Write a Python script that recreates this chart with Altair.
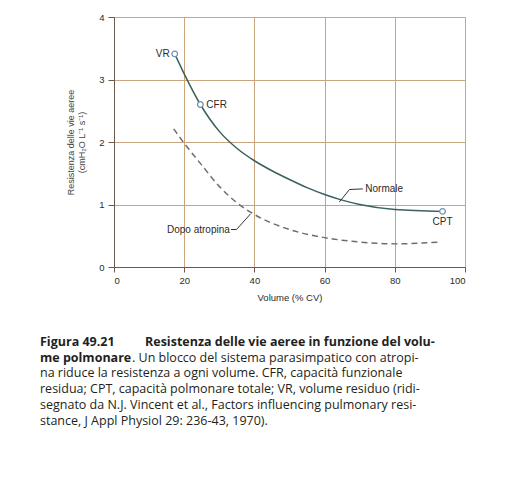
import altair as alt
import pandas as pd

# --- data ---
vol_normal = [17.3, 20, 24.6, 30, 35, 40, 45, 50, 55, 60, 65, 70, 80, 93.6]
res_normal = [3.41, 3.09, 2.60, 2.17, 1.90, 1.70, 1.54, 1.40, 1.27, 1.16, 1.07, 1.00, 0.92, 0.89]

vol_atropine = [17, 20, 25, 30, 35, 40, 50, 60, 70, 80, 93]
res_atropine = [2.21, 1.98, 1.63, 1.29, 1.03, 0.84, 0.60, 0.47, 0.40, 0.37, 0.40]

point_labels = ["VR", "CFR", "CPT"]
point_vol = [17.3, 24.6, 93.6]
point_res = [3.41, 2.60, 0.89]

caption_lines = [
    "na riduce la resistenza a ogni volume. CFR, capacità funzionale",
    "residua; CPT, capacità polmonare totale; VR, volume residuo (ridi-",
    "segnato da N.J. Vincent et al., Factors influencing pulmonary resi-",
    "stance, J Appl Physiol 29: 236-43, 1970).",
]

W, H = 351, 250
LEFT, TOP = 114, 17
FONT = "Liberation Sans"
CAP_FONT = "Open Sans"
TXT = "#2a2a2a"

normal_df = pd.DataFrame({"v": vol_normal, "r": res_normal})
atro_df = pd.DataFrame({"v": vol_atropine, "r": res_atropine})
pts_df = pd.DataFrame({"v": point_vol, "r": point_res, "lab": point_labels})

xs = alt.Scale(domain=[0, 100], nice=False)
ys = alt.Scale(domain=[0, 4], nice=False)

xax = alt.Axis(values=[0, 20, 40, 60, 80, 100], title="Volume (% CV)", format="d",
               grid=True, gridColor="#c9a47c", gridWidth=1,
               domainColor="#6b5a4c", tickColor="#6b5a4c", tickSize=5,
               labelFont=FONT, labelFontSize=9.5, labelColor=TXT, labelPadding=3,
               titleFont=FONT, titleFontSize=9.5, titleFontWeight="normal",
               titleColor=TXT, titlePadding=8)
yax = alt.Axis(values=[0, 1, 2, 3, 4], format="d",
               title=["Resistenza delle vie aeree", "(cmH₂O L⁻¹ s⁻¹)"],
               grid=True, gridColor="#c9a47c", gridWidth=1,
               domainColor="#6b5a4c", tickColor="#6b5a4c", tickSize=6,
               labelFont=FONT, labelFontSize=9.5, labelColor=TXT, labelPadding=4,
               titleFont=FONT, titleFontSize=9, titleFontWeight="normal",
               titleColor="#444", titlePadding=12, titleLineHeight=11)

base_x = alt.X("v:Q", scale=xs, axis=xax)
base_y = alt.Y("r:Q", scale=ys, axis=yax)

normal = alt.Chart(normal_df).mark_line(
    color="#3b6060", strokeWidth=1.5, interpolate="monotone"
).encode(x=base_x, y=base_y)

atro = alt.Chart(atro_df).mark_line(
    color="#6e6e6e", strokeWidth=1.5, strokeDash=[6, 4], interpolate="monotone"
).encode(x="v:Q", y="r:Q")

pts = alt.Chart(pts_df).mark_point(
    shape="circle", filled=True, fill="white", stroke="#6a93b6",
    strokeWidth=1.3, size=32, opacity=1
).encode(x="v:Q", y="r:Q")

# annotation labels
lab_vr = alt.Chart(pts_df[pts_df.lab == "VR"]).mark_text(
    align="right", baseline="middle", dx=-5, font=FONT, fontSize=10, color=TXT
).encode(x="v:Q", y="r:Q", text="lab:N")
lab_cfr = alt.Chart(pts_df[pts_df.lab == "CFR"]).mark_text(
    align="left", baseline="middle", dx=6, font=FONT, fontSize=10, color=TXT
).encode(x="v:Q", y="r:Q", text="lab:N")
lab_cpt = alt.Chart(pts_df[pts_df.lab == "CPT"]).mark_text(
    align="center", baseline="top", dy=6, font=FONT, fontSize=10, color=TXT
).encode(x="v:Q", y="r:Q", text="lab:N")

normale_leader = pd.DataFrame({"v": [64.2, 67.1, 70.9], "r": [1.04, 1.24, 1.25], "o": [0, 1, 2]})
atro_leader = pd.DataFrame({"v": [33.3, 34.9, 38.9], "r": [0.60, 0.60, 0.85], "o": [0, 1, 2]})

lead1 = alt.Chart(normale_leader).mark_line(color="#333", strokeWidth=1).encode(
    x="v:Q", y="r:Q", order="o:Q")
lead2 = alt.Chart(atro_leader).mark_line(color="#333", strokeWidth=1).encode(
    x="v:Q", y="r:Q", order="o:Q")

ann_df = pd.DataFrame({"v": [71.6], "r": [1.25], "t": ["Normale"]})
ann2_df = pd.DataFrame({"v": [33.0], "r": [0.60], "t": ["Dopo atropina"]})
ann1 = alt.Chart(ann_df).mark_text(
    align="left", baseline="middle", font=FONT, fontSize=10, color=TXT
).encode(x="v:Q", y="r:Q", text="t:N")
ann2 = alt.Chart(ann2_df).mark_text(
    align="right", baseline="middle", font=FONT, fontSize=10, color=TXT
).encode(x="v:Q", y="r:Q", text="t:N")

# caption (below the chart)
cap_y0 = 342 - TOP
cap_dy = 15.7
cap_x = 40 - LEFT

def cap(text, x, y, bold=False):
    return alt.Chart(pd.DataFrame({"t": [text]})).mark_text(
        align="left", baseline="middle", font=CAP_FONT, fontSize=12.5,
        fontWeight="bold" if bold else "normal", color="#231f20"
    ).encode(x=alt.value(x), y=alt.value(y), text="t:N")

caps = [
    cap("Figura 49.21", cap_x, cap_y0, True),
    cap("Resistenza delle vie aeree in funzione del volu-", 145 - LEFT, cap_y0, True),
    cap("me polmonare", cap_x, cap_y0 + cap_dy, True),
    cap(". Un blocco del sistema parasimpatico con atropi-", 132 - LEFT, cap_y0 + cap_dy),
]
for i, line in enumerate(caption_lines):
    caps.append(cap(line, cap_x, cap_y0 + cap_dy * (i + 2)))

chart = alt.layer(normal, atro, lead1, lead2, pts, lab_vr, lab_cfr, lab_cpt, ann1, ann2, *caps).properties(
    width=W, height=H,
    autosize=alt.AutoSizeParams(type="none"),
    padding={"left": LEFT, "top": TOP, "right": 513 - LEFT - W, "bottom": 497 - TOP - H},
    background="white",
).configure_view(fill="#fde4c9", stroke=None).configure(font=FONT)

chart.save("out.html", embed_options={"renderer": "svg", "actions": False})
